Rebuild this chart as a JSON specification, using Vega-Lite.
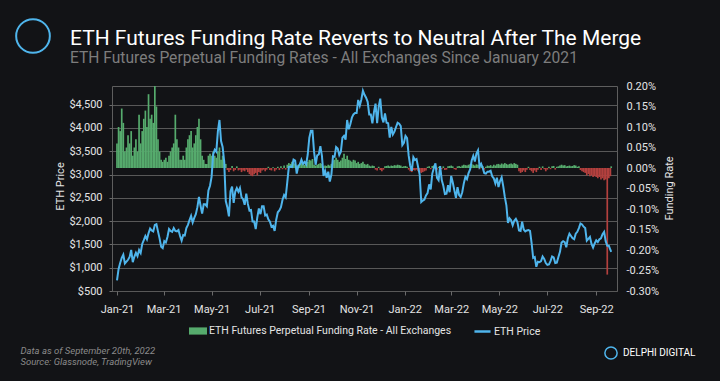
{
"$schema": "https://vega.github.io/schema/vega-lite/v6.json",
"width": 505, "height": 205,
"autosize": {"type": "none"},
"padding": {"left": 112, "top": 86, "right": 103, "bottom": 90},
"background": "#121316",
"config": {
  "font": "Roboto",
  "view": {"stroke": "#5e5e5e", "strokeWidth": 1},
  "axis": {"labelColor": "#e4e4e4", "titleColor": "#e4e4e4", "labelFontSize": 11, "titleFontSize": 11, "titleFontWeight": "normal", "domainColor": "#6a6a6a", "tickColor": "#6a6a6a", "gridColor": "#585858"},
  "legend": {"labelColor": "#e4e4e4", "labelFontSize": 10.5, "padding": 0, "labelLimit": 400}
},
"title": {"text": "ETH Futures Funding Rate Reverts to Neutral After The Merge", "subtitle": "ETH Futures Perpetual Funding Rates - All Exchanges Since January 2021", "anchor": "start", "frame": "group", "dx": -42, "offset": -49, "fontSize": 21, "fontWeight": "normal", "color": "#ffffff", "subtitleFontSize": 15.6, "subtitleColor": "#7d7d7d", "subtitlePadding": 2, "font": "Roboto", "subtitleFont": "Roboto"},
"data": {"values": [
{"d":"2021-01-01","p":730,"f":0.06},{"d":"2021-01-03","p":975,"f":0.10},{"d":"2021-01-05","p":1100,"f":0.09},{"d":"2021-01-07","p":1210,"f":0.145},{"d":"2021-01-09","p":1280,"f":0.11},{"d":"2021-01-11","p":1090,"f":0.04},{"d":"2021-01-13","p":1130,"f":0.05},{"d":"2021-01-15","p":1170,"f":0.08},{"d":"2021-01-17","p":1230,"f":0.06},{"d":"2021-01-19","p":1380,"f":0.09},{"d":"2021-01-21","p":1120,"f":0.03},{"d":"2021-01-23","p":1235,"f":0.05},{"d":"2021-01-25","p":1320,"f":0.07},{"d":"2021-01-27","p":1250,"f":0.04},{"d":"2021-01-29","p":1380,"f":0.13},{"d":"2021-01-31","p":1315,"f":0.06},
{"d":"2021-02-02","p":1510,"f":0.09},{"d":"2021-02-04","p":1590,"f":0.12},{"d":"2021-02-06","p":1680,"f":0.14},{"d":"2021-02-08","p":1610,"f":0.10},{"d":"2021-02-10","p":1740,"f":0.18},{"d":"2021-02-12","p":1840,"f":0.12},{"d":"2021-02-14","p":1800,"f":0.13},{"d":"2021-02-16","p":1780,"f":0.11},{"d":"2021-02-18","p":1920,"f":0.20},{"d":"2021-02-20","p":1935,"f":0.15},{"d":"2021-02-22","p":1780,"f":0.07},{"d":"2021-02-24","p":1630,"f":0.04},{"d":"2021-02-26","p":1450,"f":0.02},{"d":"2021-02-28","p":1420,"f":0.015},
{"d":"2021-03-02","p":1570,"f":0.02},{"d":"2021-03-04","p":1540,"f":0.025},{"d":"2021-03-06","p":1660,"f":0.015},{"d":"2021-03-08","p":1830,"f":0.03},{"d":"2021-03-10","p":1790,"f":0.04},{"d":"2021-03-12","p":1770,"f":0.05},{"d":"2021-03-14","p":1850,"f":0.06},{"d":"2021-03-16","p":1790,"f":0.13},{"d":"2021-03-18","p":1780,"f":0.07},{"d":"2021-03-20","p":1810,"f":0.05},{"d":"2021-03-22","p":1680,"f":0.02},{"d":"2021-03-24","p":1580,"f":0.02},{"d":"2021-03-26","p":1700,"f":0.03},{"d":"2021-03-28","p":1690,"f":0.02},{"d":"2021-03-30","p":1850,"f":0.05},
{"d":"2021-04-01","p":1920,"f":0.07},{"d":"2021-04-03","p":2020,"f":0.08},{"d":"2021-04-05","p":2110,"f":0.09},{"d":"2021-04-07","p":1970,"f":0.05},{"d":"2021-04-09","p":2070,"f":0.06},{"d":"2021-04-11","p":2150,"f":0.08},{"d":"2021-04-13","p":2300,"f":0.10},{"d":"2021-04-15","p":2520,"f":0.12},{"d":"2021-04-17","p":2330,"f":0.07},{"d":"2021-04-19","p":2160,"f":0.03},{"d":"2021-04-21","p":2360,"f":0.02},{"d":"2021-04-23","p":2360,"f":0.01},{"d":"2021-04-25","p":2320,"f":0.01},{"d":"2021-04-27","p":2660,"f":0.03},{"d":"2021-04-29","p":2760,"f":0.035},
{"d":"2021-05-01","p":2950,"f":0.03},{"d":"2021-05-03","p":3430,"f":0.04},{"d":"2021-05-05","p":3530,"f":0.03},{"d":"2021-05-07","p":3490,"f":0.025},{"d":"2021-05-09","p":3930,"f":0.04},{"d":"2021-05-11","p":4170,"f":0.05},{"d":"2021-05-13","p":3720,"f":0.02},{"d":"2021-05-15","p":3590,"f":0.03},{"d":"2021-05-17","p":3280,"f":0.02},{"d":"2021-05-19","p":2430,"f":0.01},{"d":"2021-05-21","p":2300,"f":-0.005},{"d":"2021-05-23","p":2100,"f":-0.01},{"d":"2021-05-25","p":2640,"f":-0.005},{"d":"2021-05-27","p":2740,"f":0.005},{"d":"2021-05-29","p":2390,"f":-0.008},{"d":"2021-05-31","p":2630,"f":-0.005},
{"d":"2021-06-02","p":2710,"f":0.004},{"d":"2021-06-04","p":2630,"f":-0.006},{"d":"2021-06-06","p":2710,"f":-0.004},{"d":"2021-06-08","p":2510,"f":-0.01},{"d":"2021-06-10","p":2470,"f":-0.006},{"d":"2021-06-12","p":2350,"f":-0.008},{"d":"2021-06-14","p":2590,"f":-0.004},{"d":"2021-06-16","p":2370,"f":-0.01},{"d":"2021-06-18","p":2230,"f":-0.015},{"d":"2021-06-20","p":2240,"f":-0.018},{"d":"2021-06-22","p":1990,"f":-0.02},{"d":"2021-06-24","p":1990,"f":-0.015},{"d":"2021-06-26","p":1830,"f":-0.012},{"d":"2021-06-28","p":2080,"f":-0.018},{"d":"2021-06-30","p":2270,"f":-0.01},
{"d":"2021-07-02","p":2150,"f":-0.012},{"d":"2021-07-04","p":2320,"f":-0.006},{"d":"2021-07-06","p":2320,"f":-0.004},{"d":"2021-07-08","p":2120,"f":-0.008},{"d":"2021-07-10","p":2140,"f":-0.004},{"d":"2021-07-12","p":2040,"f":0.003},{"d":"2021-07-14","p":1990,"f":-0.005},{"d":"2021-07-16","p":1880,"f":-0.006},{"d":"2021-07-18","p":1900,"f":0.002},{"d":"2021-07-20","p":1790,"f":-0.008},{"d":"2021-07-22","p":2030,"f":-0.004},{"d":"2021-07-24","p":2190,"f":0.003},{"d":"2021-07-26","p":2230,"f":-0.005},{"d":"2021-07-28","p":2300,"f":0.004},{"d":"2021-07-30","p":2460,"f":-0.003},
{"d":"2021-08-01","p":2560,"f":0.006},{"d":"2021-08-03","p":2510,"f":-0.004},{"d":"2021-08-05","p":2830,"f":0.008},{"d":"2021-08-07","p":3160,"f":0.012},{"d":"2021-08-09","p":3170,"f":0.01},{"d":"2021-08-11","p":3160,"f":0.015},{"d":"2021-08-13","p":3320,"f":0.012},{"d":"2021-08-15","p":3300,"f":0.01},{"d":"2021-08-17","p":3020,"f":0.006},{"d":"2021-08-19","p":3180,"f":0.008},{"d":"2021-08-21","p":3220,"f":0.012},{"d":"2021-08-23","p":3320,"f":0.014},{"d":"2021-08-25","p":3230,"f":0.01},{"d":"2021-08-27","p":3270,"f":0.008},{"d":"2021-08-29","p":3220,"f":0.01},{"d":"2021-08-31","p":3430,"f":0.015},
{"d":"2021-09-02","p":3790,"f":0.02},{"d":"2021-09-04","p":3940,"f":0.018},{"d":"2021-09-06","p":3940,"f":0.022},{"d":"2021-09-08","p":3490,"f":0.008},{"d":"2021-09-10","p":3210,"f":0.006},{"d":"2021-09-12","p":3410,"f":0.008},{"d":"2021-09-14","p":3430,"f":0.01},{"d":"2021-09-16","p":3610,"f":0.012},{"d":"2021-09-18","p":3400,"f":0.01},{"d":"2021-09-20","p":2970,"f":0.004},{"d":"2021-09-22","p":3080,"f":0.006},{"d":"2021-09-24","p":2930,"f":0.005},{"d":"2021-09-26","p":3060,"f":0.008},{"d":"2021-09-28","p":2850,"f":0.006},{"d":"2021-09-30","p":3000,"f":0.01},
{"d":"2021-10-02","p":3390,"f":0.018},{"d":"2021-10-04","p":3380,"f":0.02},{"d":"2021-10-06","p":3590,"f":0.025},{"d":"2021-10-08","p":3560,"f":0.02},{"d":"2021-10-10","p":3420,"f":0.015},{"d":"2021-10-12","p":3490,"f":0.018},{"d":"2021-10-14","p":3790,"f":0.025},{"d":"2021-10-16","p":3830,"f":0.035},{"d":"2021-10-18","p":3750,"f":0.022},{"d":"2021-10-20","p":4170,"f":0.03},{"d":"2021-10-22","p":3970,"f":0.02},{"d":"2021-10-24","p":4080,"f":0.018},{"d":"2021-10-26","p":4220,"f":0.015},{"d":"2021-10-28","p":4290,"f":0.02},{"d":"2021-10-30","p":4320,"f":0.018},
{"d":"2021-11-01","p":4320,"f":0.012},{"d":"2021-11-03","p":4600,"f":0.015},{"d":"2021-11-05","p":4480,"f":0.01},{"d":"2021-11-07","p":4610,"f":0.012},{"d":"2021-11-09","p":4800,"f":0.015},{"d":"2021-11-11","p":4710,"f":0.01},{"d":"2021-11-13","p":4650,"f":0.008},{"d":"2021-11-15","p":4560,"f":0.01},{"d":"2021-11-17","p":4290,"f":0.006},{"d":"2021-11-19","p":4290,"f":0.004},{"d":"2021-11-21","p":4100,"f":0.006},{"d":"2021-11-23","p":4340,"f":0.005},{"d":"2021-11-25","p":4520,"f":-0.004},{"d":"2021-11-27","p":4100,"f":-0.006},{"d":"2021-11-29","p":4450,"f":0.003},
{"d":"2021-12-01","p":4630,"f":-0.005},{"d":"2021-12-03","p":4230,"f":-0.008},{"d":"2021-12-05","p":4120,"f":-0.004},{"d":"2021-12-07","p":4310,"f":0.004},{"d":"2021-12-09","p":4110,"f":0.005},{"d":"2021-12-11","p":4100,"f":0.006},{"d":"2021-12-13","p":3790,"f":0.004},{"d":"2021-12-15","p":4020,"f":0.006},{"d":"2021-12-17","p":3860,"f":0.005},{"d":"2021-12-19","p":3920,"f":0.007},{"d":"2021-12-21","p":4020,"f":0.006},{"d":"2021-12-23","p":4110,"f":0.008},{"d":"2021-12-25","p":4090,"f":0.007},{"d":"2021-12-27","p":4040,"f":0.006},{"d":"2021-12-29","p":3630,"f":0.003},{"d":"2021-12-31","p":3680,"f":0.004},
{"d":"2022-01-02","p":3830,"f":0.005},{"d":"2022-01-04","p":3780,"f":0.003},{"d":"2022-01-06","p":3410,"f":-0.004},{"d":"2022-01-08","p":3190,"f":-0.008},{"d":"2022-01-10","p":3080,"f":-0.01},{"d":"2022-01-12","p":3370,"f":-0.005},{"d":"2022-01-14","p":3310,"f":-0.006},{"d":"2022-01-16","p":3330,"f":-0.004},{"d":"2022-01-18","p":3160,"f":-0.008},{"d":"2022-01-20","p":3000,"f":-0.01},{"d":"2022-01-22","p":2410,"f":-0.012},{"d":"2022-01-24","p":2440,"f":-0.01},{"d":"2022-01-26","p":2460,"f":-0.008},{"d":"2022-01-28","p":2550,"f":-0.006},{"d":"2022-01-30","p":2600,"f":0.003},
{"d":"2022-02-01","p":2790,"f":0.004},{"d":"2022-02-03","p":2680,"f":-0.003},{"d":"2022-02-05","p":3020,"f":0.005},{"d":"2022-02-07","p":3140,"f":0.006},{"d":"2022-02-09","p":3240,"f":0.004},{"d":"2022-02-11","p":2930,"f":-0.004},{"d":"2022-02-13","p":2880,"f":0.003},{"d":"2022-02-15","p":3180,"f":0.005},{"d":"2022-02-17","p":2880,"f":-0.003},{"d":"2022-02-19","p":2760,"f":0.004},{"d":"2022-02-21","p":2580,"f":-0.005},{"d":"2022-02-23","p":2590,"f":-0.004},{"d":"2022-02-25","p":2770,"f":0.004},{"d":"2022-02-27","p":2620,"f":0.005},
{"d":"2022-03-01","p":2970,"f":0.006},{"d":"2022-03-03","p":2830,"f":0.004},{"d":"2022-03-05","p":2660,"f":-0.003},{"d":"2022-03-07","p":2500,"f":-0.004},{"d":"2022-03-09","p":2730,"f":0.004},{"d":"2022-03-11","p":2560,"f":0.005},{"d":"2022-03-13","p":2520,"f":0.003},{"d":"2022-03-15","p":2620,"f":0.006},{"d":"2022-03-17","p":2810,"f":0.008},{"d":"2022-03-19","p":2950,"f":0.007},{"d":"2022-03-21","p":2900,"f":0.006},{"d":"2022-03-23","p":3030,"f":0.008},{"d":"2022-03-25","p":3110,"f":0.009},{"d":"2022-03-27","p":3300,"f":0.01},{"d":"2022-03-29","p":3400,"f":0.008},{"d":"2022-03-31","p":3280,"f":0.006},
{"d":"2022-04-02","p":3450,"f":0.009},{"d":"2022-04-04","p":3520,"f":0.008},{"d":"2022-04-06","p":3170,"f":-0.003},{"d":"2022-04-08","p":3230,"f":0.004},{"d":"2022-04-10","p":3140,"f":0.005},{"d":"2022-04-12","p":3030,"f":-0.004},{"d":"2022-04-14","p":3020,"f":0.003},{"d":"2022-04-16","p":3060,"f":0.006},{"d":"2022-04-18","p":3060,"f":0.005},{"d":"2022-04-20","p":3080,"f":0.007},{"d":"2022-04-22","p":2960,"f":0.004},{"d":"2022-04-24","p":2920,"f":0.008},{"d":"2022-04-26","p":2810,"f":0.006},{"d":"2022-04-28","p":2930,"f":0.009},{"d":"2022-04-30","p":2730,"f":0.01},
{"d":"2022-05-02","p":2860,"f":0.008},{"d":"2022-05-04","p":2940,"f":0.011},{"d":"2022-05-06","p":2750,"f":0.009},{"d":"2022-05-08","p":2520,"f":0.012},{"d":"2022-05-10","p":2340,"f":0.01},{"d":"2022-05-12","p":1960,"f":0.008},{"d":"2022-05-14","p":2060,"f":0.01},{"d":"2022-05-16","p":2020,"f":0.011},{"d":"2022-05-18","p":1910,"f":0.009},{"d":"2022-05-20","p":2010,"f":0.012},{"d":"2022-05-22","p":2050,"f":0.01},{"d":"2022-05-24","p":1980,"f":0.008},{"d":"2022-05-26","p":1800,"f":-0.008},{"d":"2022-05-28","p":1790,"f":-0.012},{"d":"2022-05-30","p":1990,"f":-0.01},
{"d":"2022-06-01","p":1820,"f":-0.006},{"d":"2022-06-03","p":1780,"f":-0.01},{"d":"2022-06-05","p":1800,"f":-0.004},{"d":"2022-06-07","p":1810,"f":0.003},{"d":"2022-06-09","p":1790,"f":-0.005},{"d":"2022-06-11","p":1530,"f":-0.008},{"d":"2022-06-13","p":1210,"f":-0.012},{"d":"2022-06-15","p":1230,"f":-0.006},{"d":"2022-06-17","p":1020,"f":-0.01},{"d":"2022-06-19","p":1130,"f":-0.004},{"d":"2022-06-21","p":1120,"f":0.003},{"d":"2022-06-23","p":1140,"f":-0.005},{"d":"2022-06-25","p":1240,"f":0.004},{"d":"2022-06-27","p":1190,"f":-0.003},{"d":"2022-06-29","p":1100,"f":-0.008},
{"d":"2022-07-01","p":1060,"f":-0.004},{"d":"2022-07-03","p":1070,"f":0.003},{"d":"2022-07-05","p":1140,"f":-0.003},{"d":"2022-07-07","p":1240,"f":0.004},{"d":"2022-07-09","p":1220,"f":0.005},{"d":"2022-07-11","p":1100,"f":-0.004},{"d":"2022-07-13","p":1110,"f":0.003},{"d":"2022-07-15","p":1230,"f":0.004},{"d":"2022-07-17","p":1340,"f":0.006},{"d":"2022-07-19","p":1540,"f":0.008},{"d":"2022-07-21","p":1570,"f":0.006},{"d":"2022-07-23","p":1550,"f":0.007},{"d":"2022-07-25","p":1440,"f":0.004},{"d":"2022-07-27","p":1630,"f":0.005},{"d":"2022-07-29","p":1730,"f":0.006},{"d":"2022-07-31","p":1680,"f":0.004},
{"d":"2022-08-02","p":1630,"f":0.005},{"d":"2022-08-04","p":1610,"f":0.007},{"d":"2022-08-06","p":1730,"f":0.006},{"d":"2022-08-08","p":1770,"f":0.003},{"d":"2022-08-10","p":1850,"f":0.004},{"d":"2022-08-12","p":1950,"f":-0.005},{"d":"2022-08-14","p":1930,"f":-0.008},{"d":"2022-08-16","p":1880,"f":-0.01},{"d":"2022-08-18","p":1850,"f":-0.012},{"d":"2022-08-20","p":1580,"f":-0.018},{"d":"2022-08-22","p":1620,"f":-0.015},{"d":"2022-08-24","p":1660,"f":-0.02},{"d":"2022-08-26","p":1510,"f":-0.018},{"d":"2022-08-28","p":1430,"f":-0.022},{"d":"2022-08-30","p":1520,"f":-0.02},
{"d":"2022-09-01","p":1590,"f":-0.022},{"d":"2022-09-03","p":1550,"f":-0.025},{"d":"2022-09-05","p":1610,"f":-0.022},{"d":"2022-09-07","p":1630,"f":-0.028},{"d":"2022-09-09","p":1720,"f":-0.025},{"d":"2022-09-11","p":1770,"f":-0.03},{"d":"2022-09-13","p":1570,"f":-0.028},{"d":"2022-09-15","p":1470,"f":-0.26},{"d":"2022-09-17","p":1470,"f":-0.025},{"d":"2022-09-19","p":1380,"f":-0.02},{"d":"2022-09-20","p":1340,"f":0.004}
]},
"layer": [
  {
    "mark": {"type": "bar", "width": 1.7, "clip": true},
    "encoding": {
      "x": {"field": "d", "type": "temporal",
        "scale": {"type": "utc", "domain": [{"year": 2021, "month": 1, "date": 1, "utc": true}, {"year": 2022, "month": 9, "date": 21, "utc": true}]},
        "axis": {"format": "%b-%y", "tickCount": {"interval": "month", "step": 2}, "grid": false, "domain": false, "tickSize": 4, "labelPadding": 8,
          "title": ["Data as of September 20th, 2022", "Source: Glassnode, TradingView"],
          "titleX": -92, "titleY": 54, "titleAlign": "left", "titleBaseline": "top", "titleAngle": 0, "titleFontStyle": "italic", "titleFontSize": 9.5, "titleColor": "#8a8a8a", "titleLineHeight": 11}},
      "y": {"field": "f", "type": "quantitative",
        "scale": {"domain": [-0.3, 0.2], "nice": false, "zero": true},
        "axis": {"orient": "right", "values": [-0.3, -0.25, -0.2, -0.15, -0.1, -0.05, 0, 0.05, 0.1, 0.15, 0.2], "labelExpr": "replace(format(datum.value, '.2f'), '\u2212', '-') + '%'", "grid": false, "domain": false, "tickSize": 0, "labelPadding": 9, "title": "Funding Rate", "titleAngle": 270, "titleX": 52, "titleY": 102, "titleAlign": "center", "titleBaseline": "middle"}},
      "fill": {"datum": "ETH Futures Perpetual Funding Rate - All Exchanges", "scale": {"range": ["#56ab6d"]},
        "condition": {"test": "datum.f < 0", "value": "#b3403e"},
        "legend": {"orient": "none", "legendX": 77, "legendY": 236, "title": null, "symbolType": "M-1,-0.4H1V0.4H-1Z", "symbolSize": 324, "symbolStrokeWidth": 0, "labelOffset": 2,
          "encode": {"symbols": {"update": {"fill": {"value": "#7fe0a0"}}}}}}
    }
  },
  {
    "mark": {"type": "line", "clip": true},
    "encoding": {
      "x": {"field": "d", "type": "temporal"},
      "y": {"field": "p", "type": "quantitative",
        "scale": {"domain": [500, 4900], "nice": false, "zero": false},
        "axis": {"orient": "left", "values": [500, 1000, 1500, 2000, 2500, 3000, 3500, 4000, 4500], "format": "$,.0f", "grid": true, "domain": false, "tickSize": 3, "labelPadding": 7, "title": "ETH Price", "titleX": -52, "titleY": 100, "titleAlign": "center", "titleBaseline": "middle"}},
      "stroke": {"datum": "ETH Price", "scale": {"range": ["#4fb5ec"]},
        "legend": {"orient": "none", "legendX": 361, "legendY": 236, "title": null, "symbolType": "stroke", "symbolSize": 260, "symbolStrokeWidth": 2.5, "labelOffset": 2}},
      "opacity": {"datum": "DELPHI DIGITAL", "type": "ordinal", "scale": {"range": [1, 1]},
        "legend": {"orient": "none", "legendX": 492, "legendY": 260, "title": null, "symbolType": "circle", "symbolSize": 150, "labelColor": "#ffffff", "labelFontSize": 10, "labelFontWeight": "normal", "labelOffset": 5,
          "encode": {"symbols": {"update": {"fill": {"value": "transparent"}, "stroke": {"value": "#ffffff"}, "strokeWidth": {"value": 1.5}, "shape": {"value": "circle"}}}}}},
      "strokeWidth": {"datum": "logo", "type": "ordinal", "scale": {"range": [2, 2]},
        "legend": {"orient": "none", "legendX": -97, "legendY": -68, "title": null, "labelExpr": "''", "symbolType": "circle", "symbolSize": 1134,
          "encode": {"symbols": {"update": {"fill": {"value": "transparent"}, "stroke": {"value": "#ffffff"}, "strokeWidth": {"value": 5}, "shape": {"value": "circle"}}}}}}
    }
  }
],
"resolve": {"scale": {"y": "independent"}}
}
